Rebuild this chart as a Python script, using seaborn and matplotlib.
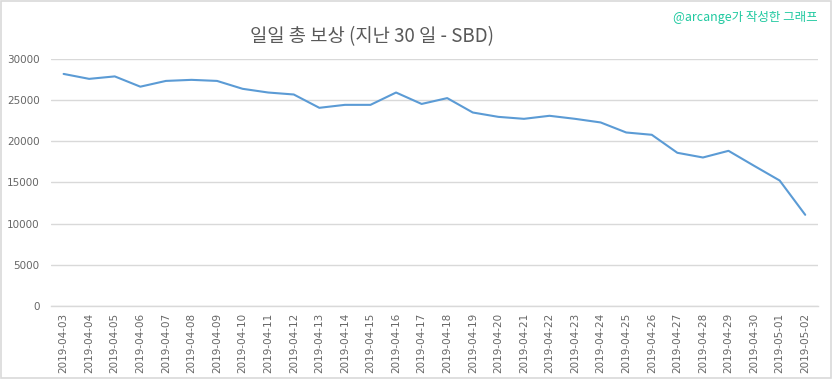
import matplotlib
matplotlib.use("Agg")
import matplotlib.pyplot as plt
import seaborn as sns
import pandas as pd
from matplotlib.patches import Rectangle

dates = ["2019-04-03", "2019-04-04", "2019-04-05", "2019-04-06", "2019-04-07",
         "2019-04-08", "2019-04-09", "2019-04-10", "2019-04-11", "2019-04-12",
         "2019-04-13", "2019-04-14", "2019-04-15", "2019-04-16", "2019-04-17",
         "2019-04-18", "2019-04-19", "2019-04-20", "2019-04-21", "2019-04-22",
         "2019-04-23", "2019-04-24", "2019-04-25", "2019-04-26", "2019-04-27",
         "2019-04-28", "2019-04-29", "2019-04-30", "2019-05-01", "2019-05-02"]
rewards = [28200, 27600, 27900, 26650, 27350, 27480, 27350, 26390, 25940, 25700,
           24080, 24440, 24440, 25940, 24550, 25260, 23510, 22980, 22740, 23110,
           22740, 22300, 21080, 20800, 18610, 18040, 18850, 17030, 15240, 11070]
y_ticks = [0, 5000, 10000, 15000, 20000, 25000, 30000]

title = "일일 총 보상 (지난 30 일 - SBD)"
watermark = "@arcange가 작성한 그래프"

sns.set_theme(style="white")
plt.rcParams['font.family'] = ['Noto Sans CJK KR', 'DejaVu Sans']

df = pd.DataFrame({"date": dates, "reward": rewards})

fig = plt.figure(figsize=(8.33, 3.79), dpi=100)
ax = fig.add_axes([0.061, 0.193, 0.921, 0.651])

sns.lineplot(data=df, x="date", y="reward", ax=ax, color="#5B9BD5", linewidth=1.5)

ax.set_xlim(-0.5, len(dates) - 0.5)
ax.set_ylim(0, 30000)
ax.set_yticks(y_ticks)
ax.set_yticklabels([str(v) for v in y_ticks])
ax.set_xticks(range(len(dates)))
ax.set_xticklabels(dates, rotation=90)
ax.tick_params(axis="both", length=0, labelsize=7.5, colors="#666666")
ax.tick_params(axis="y", pad=8)
ax.tick_params(axis="x", pad=5)
for lbl in ax.get_xticklabels() + ax.get_yticklabels():
    lbl.set_family(['DejaVu Sans'])
ax.set_xlabel("")
ax.set_ylabel("")
ax.yaxis.grid(True, color="#D9D9D9", linewidth=1)
ax.xaxis.grid(False)
for s in ["top", "right", "left"]:
    ax.spines[s].set_visible(False)
ax.spines["bottom"].set_color("#D9D9D9")
ax.spines["bottom"].set_linewidth(1)

fig.text(0.446, 0.903, title, ha="center", va="center", fontsize=13.5, color="#595959")
fig.text(0.982, 0.955, watermark, ha="right", va="center", fontsize=9, color="#20C9A0")

fig.patches.append(Rectangle((0.001, 0.002), 0.997, 0.995, transform=fig.transFigure,
                             fill=False, edgecolor="#D9D9D9", linewidth=1.2))

fig.savefig("out.png", dpi=100)
